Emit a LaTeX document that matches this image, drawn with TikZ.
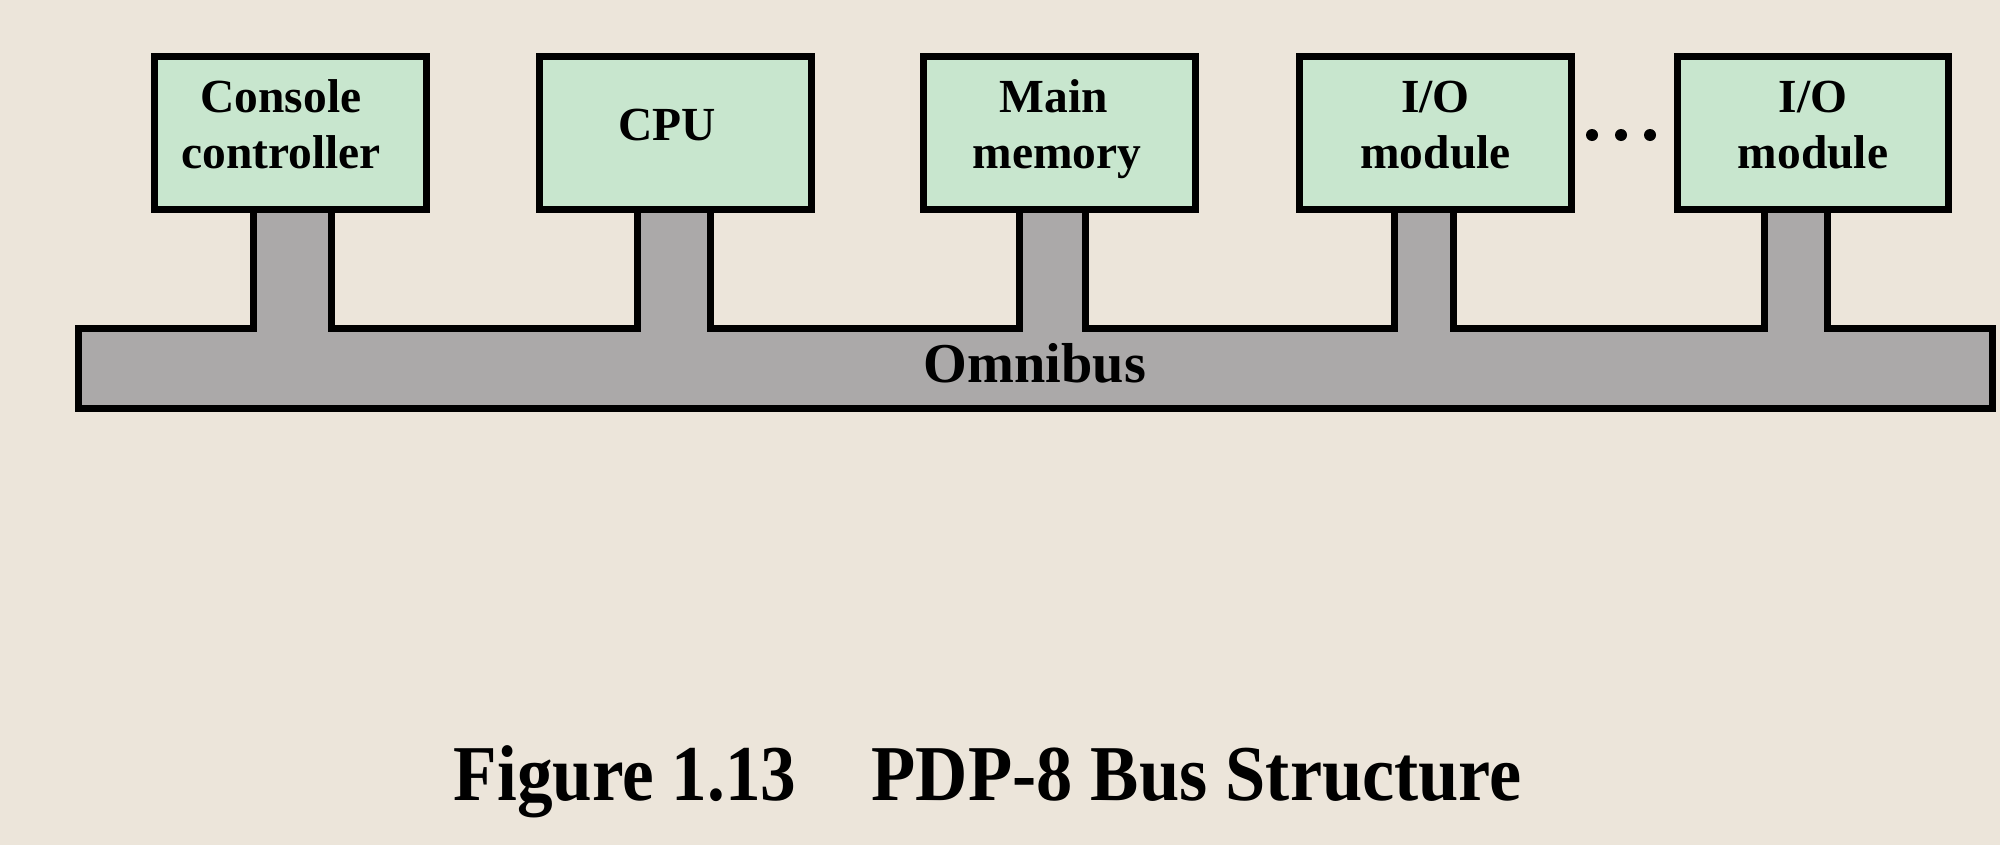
\documentclass[tikz,border=0pt]{standalone}
\usepackage{fontspec}
\setmainfont{Liberation Serif}
\usepackage{graphicx}
\definecolor{bgcol}{RGB}{236,229,218}
\definecolor{boxfill}{RGB}{200,230,206}
\definecolor{busgray}{RGB}{171,169,169}
\tikzset{
  unitbox/.style={draw=black, line width=2pt, fill=boxfill, minimum width=2.71cm, minimum height=1.53cm, inner sep=0pt},
  boxtext/.style={anchor=base, inner sep=0pt, font=\fontsize{13.5}{15.9}\selectfont\bfseries},
  bustext/.style={anchor=base, inner sep=0pt, font=\fontsize{16}{19}\selectfont\bfseries},
  captext/.style={anchor=base west, inner sep=0pt, font=\fontsize{22.5}{27}\selectfont\bfseries},
  busline/.style={draw=black, line width=2pt, fill=busgray, line join=miter}
}
\begin{document}
\begin{tikzpicture}[x=0.01cm, y=-0.01cm]
  \fill[bgcol] (0,0) rectangle (2000,845);
  \useasboundingbox (0,0) rectangle (2000,845);
  % bus with stems
  \path[busline] (78.5,408.5) -- (78.5,328.5)
    -- (253.5,328.5) -- (253.5,200) -- (331.5,200) -- (331.5,328.5)
    -- (637.5,328.5) -- (637.5,200) -- (710.5,200) -- (710.5,328.5)
    -- (1019.5,328.5) -- (1019.5,200) -- (1085.5,200) -- (1085.5,328.5)
    -- (1394.5,328.5) -- (1394.5,200) -- (1453.5,200) -- (1453.5,328.5)
    -- (1764.5,328.5) -- (1764.5,200) -- (1827.5,200) -- (1827.5,328.5)
    -- (1992.5,328.5) -- (1992.5,408.5) -- cycle;
  % boxes
  \node[unitbox] (cons) at (290.5,133) {};
  \node[unitbox] (cpu)  at (675.5,133) {};
  \node[unitbox] (mem)  at (1059.5,133) {};
  \node[unitbox] (io1)  at (1435.5,133) {};
  \node[unitbox] (io2)  at (1813,133) {};
  % labels
  \node[boxtext] (t1a) at (281,112) {Console};
  \node[boxtext] (t1b) at (281,168) {controller};
  \node[boxtext] (t2)  at (667,140) {CPU};
  \node[boxtext] (t3a) at (1054,112) {Main};
  \node[boxtext] (t3b) at (1057,168) {memory};
  \node[boxtext] (t4a) at (1435.5,112) {I/O};
  \node[boxtext] (t4b) at (1435.5,168) {module};
  \node[boxtext] (t5a) at (1813,112) {I/O};
  \node[boxtext] (t5b) at (1813,168) {module};
  \node[bustext] (bus) at (1035,382) {Omnibus};
  % dots
  \fill[black] (1592,135) circle (6);
  \fill[black] (1621,135) circle (6);
  \fill[black] (1650,135) circle (6);
  % caption
  \node[captext] (capA) at (453,800) {\scalebox{0.9}[1]{Figure 1.13}};
  \node[captext] (capB) at (871,800) {\scalebox{0.915}[1]{PDP-8 Bus Structure}};
\end{tikzpicture}
\end{document}
